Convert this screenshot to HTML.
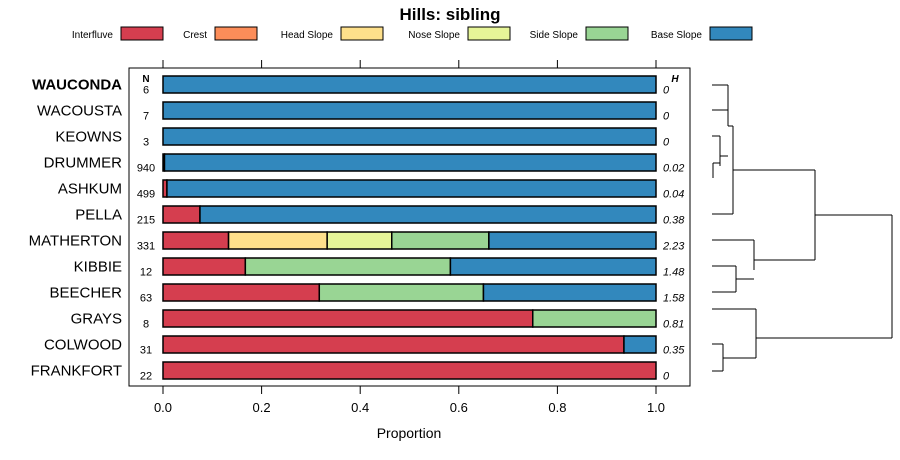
<!DOCTYPE html>
<html><head><meta charset="utf-8"><style>
body{margin:0;background:#fff;}
svg{display:block;font-family:"Liberation Sans",sans-serif;}
</style></head><body>
<svg id="chart" width="900" height="460" viewBox="0 0 900 460">
<text x="450" y="20" text-anchor="middle" font-size="17" font-weight="bold">Hills: sibling</text>
<g id="legend"></g>
<rect x="129" y="68" width="561" height="318" fill="none" stroke="#000" stroke-width="1"/>
<g id="axes"></g>
<g id="bars"></g>
<g id="labels"></g>
<g id="dendro" stroke="#000" stroke-width="1" fill="none"></g>
<text x="409" y="438" text-anchor="middle" font-size="14">Proportion</text>
</svg>
<script>
const classes = ["Interfluve","Crest","Head Slope","Nose Slope","Side Slope","Base Slope"];
const colors = ["#D53E4F","#FC8D59","#FEE08B","#E6F598","#99D594","#3288BD"];
const series = ["WAUCONDA","WACOUSTA","KEOWNS","DRUMMER","ASHKUM","PELLA","MATHERTON","KIBBIE","BEECHER","GRAYS","COLWOOD","FRANKFORT"];
const nValues = [6,7,3,940,499,215,331,12,63,8,31,22];
const hValues = ["0","0","0","0.02","0.04","0.38","2.23","1.48","1.58","0.81","0.35","0"];
const interfluve = [0,0,0,0.003,0.008,0.075,0.133,0.167,0.317,0.75,0.935,1];
const crest =      [0,0,0,0,0,0,0,0,0,0,0,0];
const headSlope =  [0,0,0,0,0,0,0.2,0,0,0,0,0];
const noseSlope =  [0,0,0,0,0,0,0.131,0,0,0,0,0];
const sideSlope =  [0,0,0,0,0,0,0.197,0.416,0.333,0.25,0,0];
const baseSlope =  [1,1,1,0.997,0.992,0.925,0.339,0.417,0.35,0,0.065,0];
const xTicks = [0,0.2,0.4,0.6,0.8,1.0];
const xTickLabels = ["0.0","0.2","0.4","0.6","0.8","1.0"];

const NS="http://www.w3.org/2000/svg";
function mk(tag,attrs,parent){const e=document.createElementNS(NS,tag);for(const k in attrs)e.setAttribute(k,attrs[k]);parent.appendChild(e);return e;}
const xs=v=>163+v*493;
const ys=i=>84.5+i*26;

const lg=document.getElementById('legend');
const legX=[113,207,333,460,578,702];
classes.forEach((c,i)=>{
  const t=mk('text',{x:legX[i],y:38,'text-anchor':'end','font-size':10},lg);
  t.textContent=c;
  
  
  const r=mk('rect',{x:legX[i]+8,y:27,width:42,height:13,fill:colors[i],stroke:'#000','stroke-width':1},lg);
  
  
});

const ax=document.getElementById('axes');
xTicks.forEach((v,i)=>{
  const x=xs(v);
  const t1=mk('line',{x1:x,x2:x,y1:60,y2:68,stroke:'#000'},ax);
  
  
  const t2=mk('line',{x1:x,x2:x,y1:386,y2:394,stroke:'#000'},ax);
  
  
  const l=mk('text',{x:x,y:412,'text-anchor':'middle','font-size':13},ax);
  l.textContent=xTickLabels[i];
  
  
});
const nh=mk('text',{x:146,y:82,'text-anchor':'middle','font-size':10,'font-weight':'bold'},ax);nh.textContent='N';


const hh=mk('text',{x:675,y:82,'text-anchor':'middle','font-size':10,'font-weight':'bold','font-style':'italic'},ax);hh.textContent='H';



const bg=document.getElementById('bars');
const lab=document.getElementById('labels');
const all=[interfluve,crest,headSlope,noseSlope,sideSlope,baseSlope];
series.forEach((s,i)=>{
  let cum=0;const y=ys(i);
  all.forEach((arr,k)=>{
    const v=arr[i];
    if(v>0){
      const r=mk('rect',{x:xs(cum),y:y-8.5,width:xs(cum+v)-xs(cum),height:17,fill:colors[k],stroke:'#000','stroke-width':1.5},bg);
      
      
    }
    cum+=v;
  });
  const t=mk('text',{x:122,y:y+5,'text-anchor':'end','font-size':15,'font-weight':i===0?'bold':'normal'},lab);
  t.textContent=s;
  
  
  const n=mk('text',{x:146,y:y+9,'text-anchor':'middle','font-size':11},lab);
  n.textContent=nValues[i];
  
  
  const h=mk('text',{x:663,y:y+9,'font-size':11,'font-style':'italic'},lab);
  h.textContent=hValues[i];
  
  
});

const dg=document.getElementById('dendro');
const segs=[
 [712,85,728,85],[712,110,728,110],[728,85,728,126],
 [712,136,720,136],[713,163,720,163],[713,163,713,178],[720,136,720,166],[720,156,728,156],
 [728,126,733,126],[733,126,733,214],[712,214,733,214],
 [733,170,815,170],
 [712,240,754,240],[712,266,736,266],[712,292,736,292],[736,266,736,292],[736,279,754,279],[754,240,754,270],[754,260,815,260],
 [815,170,815,260],[815,215,892,215],
 [712,309,756,309],[712,344,723,344],[712,371,723,371],[723,344,723,371],[723,358,756,358],[756,309,756,358],[756,338,892,338],
 [892,215,892,338]
];
segs.forEach(s=>{
  const l=mk('line',{x1:s[0],y1:s[1],x2:s[2],y2:s[3]},dg);
  
  
});
</script>
</body></html>
